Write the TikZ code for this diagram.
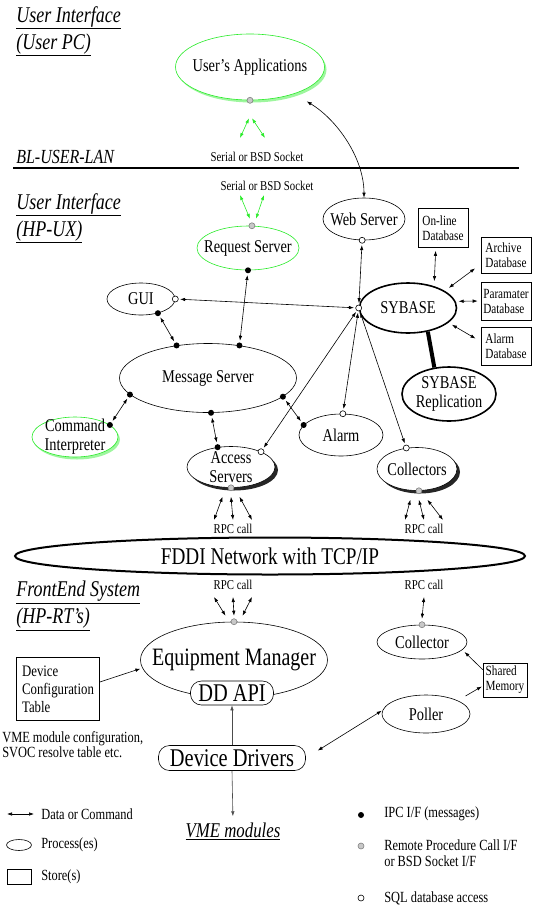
\documentclass[tikz,border=0pt]{standalone}
\usepackage{fontspec}
\setmainfont[FakeStretch=0.8]{Liberation Serif}
\usetikzlibrary{shapes.geometric,arrows.meta,shadows}
\definecolor{uigreen}{RGB}{40,235,40}
\definecolor{dotgray}{RGB}{200,200,200}
\tikzset{
  >={Latex[length=5pt,width=3.5pt]},
  proc/.style={ellipse, draw, fill=white, inner sep=-20pt, align=center,
    font=\fontsize{18}{19}\selectfont},
  greenproc/.style={proc, draw=uigreen},
  greenshadow/.style={drop shadow={fill=uigreen, opacity=0.45,
    shadow xshift=2pt, shadow yshift=-2.5pt}},
  blackshadow/.style={drop shadow={fill=black, opacity=0.85,
    shadow xshift=3pt, shadow yshift=-3pt}},
  store/.style={rectangle, draw, fill=white, inner sep=2pt, align=left,
    font=\fontsize{14}{15}\selectfont},
  layer/.style={rectangle, draw, fill=white, rounded corners=11pt, inner sep=1pt,
    font=\fontsize{25.5}{26}\selectfont},
  ipc/.style={circle, fill=black, inner sep=0pt, minimum size=6pt},
  rpc/.style={circle, draw=gray, fill=dotgray, inner sep=0pt, minimum size=6pt},
  sql/.style={circle, draw, fill=white, inner sep=0pt, minimum size=6pt},
  heading/.style={anchor=west, align=left, inner sep=1pt,
    font=\fontsize{22.5}{27}\selectfont\itshape},
  note/.style={inner sep=1pt, font=\fontsize{13.5}{14}\selectfont},
  legtext/.style={anchor=west, align=left, inner sep=1pt,
    font=\fontsize{15.5}{16}\selectfont},
  dataflow/.style={<->, shorten <=1.5pt, shorten >=1.5pt},
}
\begin{document}
\begin{tikzpicture}[x=1pt, y=-1pt, line width=0.6pt]
\useasboundingbox (0,0) rectangle (533,906);

% user PC side
\node[heading] (hpc) at (15,31) {\underline{User Interface}\\\underline{(User PC)}};
\node[greenproc, greenshadow, minimum width=149pt, minimum height=66pt] (ua) at (250,67) {User's Applications};
\node[rpc] (uarpc) at (ua.south) {};
\node[note] (ser1) at (257,157) {Serial or BSD Socket};
\draw[<->, uigreen] ([xshift=-1pt, yshift=-18pt]uarpc.center) -- ([xshift=-17pt, yshift=13pt]ser1.north);
\draw[<->, uigreen] ([xshift=2pt, yshift=-18pt]uarpc.center) -- ([xshift=8pt, yshift=13pt]ser1.north);

% the LAN
\node[heading, font=\fontsize{20}{22}\selectfont\itshape] (lan) at (15,157) {BL-USER-LAN};
\coordinate (lanl) at (13,168);
\coordinate (lanr) at (519,168);
\draw[line width=2.5pt] (lanl) -- (lanr);
\node[note] (ser2) at (267,186) {Serial or BSD Socket};

% HP-UX side
\node[heading] (hux) at (15,218) {\underline{User Interface}\\\underline{(HP-UX)}};
\node[greenproc, minimum width=102pt, minimum height=44pt] (rs) at (248,248) {Request Server};
\node[rpc] (rsrpc) at (rs.80) {};
\node[ipc] (rsipc) at (rs.270) {};
\draw[<->, uigreen] ([xshift=-27pt, yshift=-3pt]ser2.south) -- ([xshift=-2pt, yshift=7pt]rsrpc.center);
\draw[<->, uigreen] ([xshift=-3pt, yshift=-3pt]ser2.south) -- ([xshift=4pt, yshift=7pt]rsrpc.center);

\node[proc, minimum width=82pt, minimum height=42pt] (ws) at (364,219) {Web Server};
\node[sql] (wssql) at (ws.265) {};
\draw[<->] ([shift={(11,8)}]ua.330) .. controls ([shift={(41,26)}]ua.330) and ([shift={(0,-40)}]ws.north) .. (ws.north);

\node[proc, line width=1.6pt, minimum width=97pt, minimum height=50pt] (syb) at (408,308) {SYBASE};
\node[sql] (sybsql) at (syb.180) {};
\node[proc, line width=1.6pt, minimum width=94pt, minimum height=54pt] (rep) at (449,394) {SYBASE\\Replication};
\draw[line width=4pt] (syb.310) -- (rep.119);

\node[store, minimum width=50pt, minimum height=39pt] (onl) at (443,228) {On-line\\Database};
\node[store, minimum width=50pt, minimum height=36pt] (arc) at (506,255) {Archive\\Database};
\node[store, minimum width=50pt, minimum height=38pt] (par) at (506,301) {Paramater\\Database};
\node[store, minimum width=50pt, minimum height=38pt] (ald) at (506,346) {Alarm\\Database};
\draw[<->, shorten <=3pt, shorten >=5pt] (onl.250) -- (syb.40);
\draw[<->, shorten <=7pt, shorten >=5pt] (arc.200) -- (syb.25);
\draw[<->, shorten <=3pt, shorten >=3pt] (par.west) -- (syb.8);
\draw[<->, shorten <=6pt, shorten >=4pt] (ald.170) -- (syb.340);

\node[proc, minimum width=68pt, minimum height=32pt] (gui) at (141,299) {GUI};
\node[sql] (guisql) at (gui.east) {};
\node[ipc] (guiipc) at (gui.320) {};

\node[proc, minimum width=177pt, minimum height=69pt] (ms) at (208,378) {Message Server};
\node[ipc] (msgui) at (ms.134) {};
\node[ipc] (msrs) at (ms.46) {};
\node[ipc] (msci) at (ms.192) {};
\node[ipc] (msas) at (ms.275) {};
\node[ipc] (msal) at (ms.346) {};

\node[greenproc, greenshadow, minimum width=86pt, minimum height=40pt] (ci) at (75,437) {Command\\Interpreter};
\node[ipc] (ciipc) at (ci.19) {};

\node[proc, blackshadow, minimum width=88pt, minimum height=41pt] (as) at (231,467) {Access\\Servers};
\node[ipc] (asipc) at (as.124) {};
\node[sql] (assql) at (as.27) {};
\node[rpc] (asrpc) at (as.270) {};

\node[proc, minimum width=84pt, minimum height=42pt] (alarm) at (341,435) {Alarm};
\node[sql] (alsql) at (alarm.85) {};
\node[ipc] (alipc) at (alarm.165) {};

\node[proc, blackshadow, minimum width=80pt, minimum height=43pt] (col) at (417,469) {Collectors};
\node[sql] (colsql) at (col.117) {};
\node[rpc] (colrpc) at (col.275) {};

\draw[dataflow] (wssql) -- (sybsql);
\draw[dataflow] (guisql) -- (sybsql);
\draw[dataflow] (guiipc) -- (msgui);
\draw[dataflow] (rsipc) -- (msrs);
\draw[dataflow] (msci) -- (ciipc);
\draw[dataflow] (msas) -- (asipc);
\draw[dataflow] (msal) -- (alipc);
\draw[dataflow] (assql) -- (sybsql);
\draw[dataflow] (alsql) -- (sybsql);
\draw[dataflow] (colsql) -- (sybsql);

\node[note] (rpca) at (233,529) {RPC call};
\node[note] (rpcb) at (424,529) {RPC call};
\foreach \dx in {-1,0,1} {
  \draw[<->] ([xshift=\dx*8.5pt, yshift=-9pt]asrpc.center) -- ([xshift=\dx*19pt, yshift=3pt]rpca.north);
  \draw[<->] ([xshift=\dx*8.5pt, yshift=-9pt]colrpc.center) -- ([xshift=\dx*19pt, yshift=3pt]rpcb.north);
}

% network
\node[proc, line width=2pt, minimum width=510pt, minimum height=37pt, font=\fontsize{24}{26}\selectfont] (fddi) at (270,556) {FDDI Network with TCP/IP};

% front end
\node[heading] (hrt) at (15,606) {\underline{FrontEnd System}\\\underline{(HP-RT's)}};
\node[note] (rpcc) at (233,585) {RPC call};
\node[note] (rpcd) at (424,585) {RPC call};
\node[proc, minimum width=187pt, minimum height=76pt, font=\fontsize{25}{26}\selectfont] (em) at (234,660) {Equipment Manager};
\node[rpc] (emrpc) at (em.north) {};
\foreach \dx in {-1,0,1}
  \draw[<->] ([xshift=\dx*19pt, yshift=-6pt]rpcc.south) -- ([xshift=\dx*8.5pt, yshift=6pt]emrpc.center);
\node[layer, minimum width=83pt, minimum height=24pt] (ddapi) at (232,693) {DD API};

\node[proc, minimum width=90pt, minimum height=34pt] (cfe) at (422,642) {Collector};
\node[rpc] (cferpc) at (cfe.north) {};
\draw[<->] ([yshift=-6pt]rpcd.south) -- ([yshift=6pt]cferpc.center);

\node[store, minimum width=83pt, minimum height=63pt, font=\fontsize{16}{18}\selectfont] (dct) at (58,689) {Device\\Configuration\\Table};
\draw[->, shorten >=2pt] ([yshift=7pt]dct.east) -- (em.185);
\node[anchor=west, align=left, inner sep=1pt, font=\fontsize{15.5}{15}\selectfont] (vmecfg) at (1,745) {VME module configuration,\\SVOC resolve table etc.};

\node[layer, minimum width=147pt, minimum height=25pt] (ddrv) at (232,758) {Device Drivers};
\node[inner sep=1pt, font=\fontsize{21}{22}\selectfont\itshape] (vme) at (233,831) {\underline{VME modules}};
\draw[->, black!70] (ddrv.north) -- (ddapi.south);
\draw[->, black!70, shorten >=5pt] (ddrv.south) -- (vme.north);

\node[proc, minimum width=88pt, minimum height=38pt] (poller) at (426,714) {Poller};
\node[store, minimum width=44pt, minimum height=34pt] (shm) at (505,680) {Shared\\Memory};
\draw[<->, shorten <=14pt, shorten >=1pt] (ddrv.east) -- (poller.175);
\draw[->, shorten <=9pt, shorten >=1pt] (poller.23) -- (shm.195);
\draw[->, shorten >=3pt] (shm.155) -- (cfe.349);

% legend
\coordinate (lgl) at (7,814);
\coordinate (lgr) at (34,814);
\draw[<->] (lgl) -- (lgr);
\node[legtext] (lgdata) at (40,814) {Data or Command};
\node[ellipse, draw, minimum width=25pt, minimum height=11pt, inner sep=0pt] (lgproc) at (19,845) {};
\node[legtext] (lgproct) at (40,845) {Process(es)};
\node[rectangle, draw, minimum width=24pt, minimum height=15pt, inner sep=0pt] (lgstore) at (19,877) {};
\node[legtext] (lgstoret) at (40,877) {Store(s)};
\node[ipc] (lgipc) at (361,815) {};
\node[legtext] (lgipct) at (383,814) {IPC I/F (messages)};
\node[rpc] (lgrpc) at (361,846) {};
\node[legtext] (lgrpct) at (383,853) {Remote Procedure Call I/F\\or BSD Socket I/F};
\node[sql] (lgsql) at (361,898) {};
\node[legtext] (lgsqlt) at (383,898) {SQL database access};
\end{tikzpicture}
\end{document}
